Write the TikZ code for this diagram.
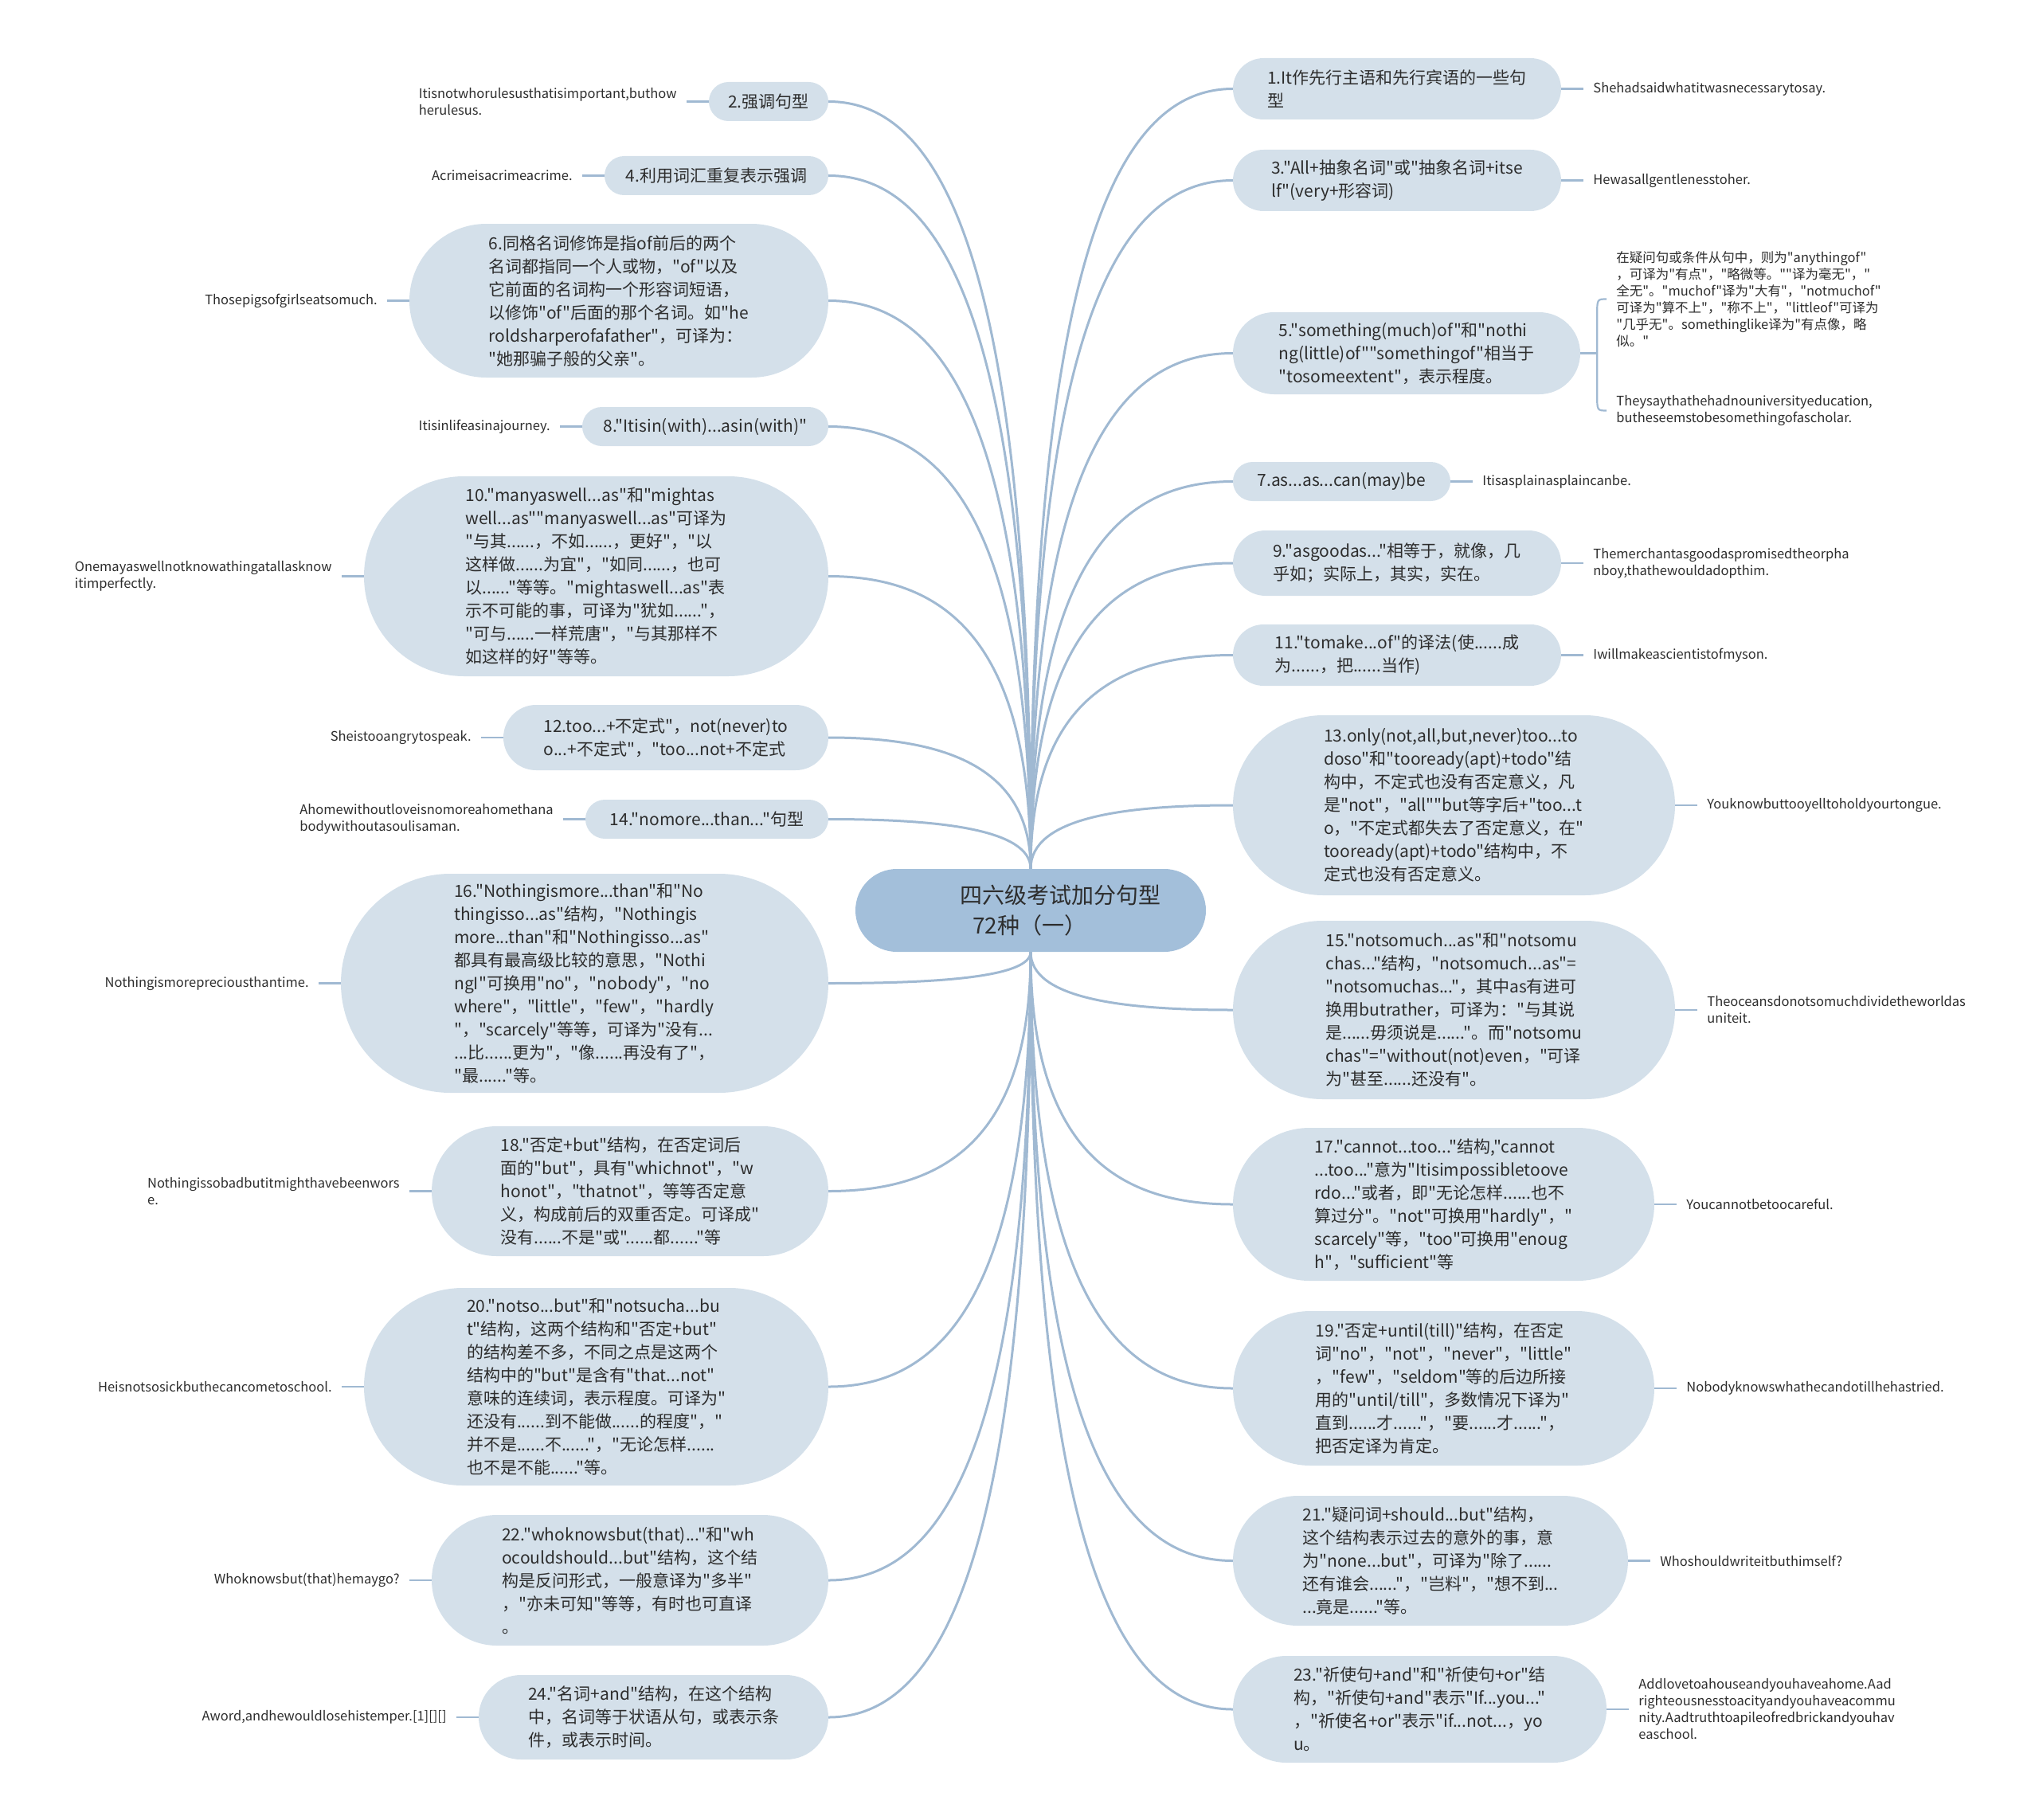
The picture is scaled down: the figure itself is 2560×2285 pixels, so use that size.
\documentclass[tikz,border=0pt]{standalone}
\usepackage{fontspec}
\setmainfont{Noto Sans CJK SC}[Ligatures=TeXOff]
\usetikzlibrary{positioning,calc}
\definecolor{rootfill}{RGB}{163,191,218}
\definecolor{topicfill}{RGB}{212,224,234}
\definecolor{linkblue}{RGB}{160,185,210}
\definecolor{inktext}{RGB}{45,45,45}
\newcommand\rootfont{\fontsize{28}{38}\selectfont}
\newcommand\topicfont{\fontsize{21}{29}\selectfont}
\newcommand\leaffont{\fontsize{16.5}{21}\selectfont}
\tikzset{
  root/.style={fill=rootfill,rounded corners=52pt,minimum width=440pt,minimum height=104pt,inner sep=0pt},
  roottext/.style={font=\rootfont,text=inktext,align=left,inner sep=0pt},
  topic/.style 2 args={fill=topicfill,rounded corners=#2pt/2,minimum width=#1pt,
    minimum height=#2pt,inner sep=0pt,align=left,font=\topicfont,text=inktext},
  leaf/.style={font=\leaffont,text=inktext,align=left,inner xsep=12pt,inner ysep=2pt},
  branch/.style={draw=linkblue,line width=3pt},
  twig/.style={draw=linkblue,line width=2.2pt},
}
\begin{document}
\begin{tikzpicture}[x=1pt,y=-1pt]
  \useasboundingbox (0,0) rectangle (2560,2285);
  \node[root] (root) at (1294,1143) {};
  \node[roottext,anchor=west] (title) at ([xshift=131pt]root.west) {四六级考试加分句型\\\hspace*{16pt}72种（一）};

  % left topics
  \node[topic={150}{49}] (n2) at (965,127.5) {2.强调句型};
  \node[topic={281}{49}] (n4) at (899.5,220.5) {4.利用词汇重复表示强调};
  \node[topic={526}{193}] (n6) at (777,377.5) {6.同格名词修饰是指of前后的两个\\名词都指同一个人或物，"of"以及\\它前面的名词构一个形容词短语，\\以修饰"of"后面的那个名词。如"he\\roldsharperofafather"，可译为：\\"她那骗子般的父亲"。};
  \node[topic={309}{49}] (n8) at (885.5,535.5) {8."Itisin(with)...asin(with)"};
  \node[topic={583}{251}] (n10) at (748.5,723.5) {10."manyaswell...as"和"mightas\\well...as""manyaswell...as"可译为\\"与其......，不如......，更好"，"以\\这样做......为宜"，"如同......，也可\\以......"等等。"mightaswell...as"表\\示不可能的事，可译为"犹如......"，\\"可与......一样荒唐"，"与其那样不\\如这样的好"等等。};
  \node[topic={408}{82}] (n12) at (836,926) {12.too...+不定式"，not(never)to\\o...+不定式"，"too...not+不定式};
  \node[topic={305}{49}] (n14) at (887.5,1028.5) {14."nomore...than..."句型};
  \node[topic={612}{275}] (n16) at (734,1234.5) {16."Nothingismore...than"和"No\\thingisso...as"结构，"Nothingis\\more...than"和"Nothingisso...as"\\都具有最高级比较的意思，"Nothi\\ngI"可换用"no"，"nobody"，"no\\where"，"little"，"few"，"hardly\\"，"scarcely"等等，可译为"没有...\\...比......更为"，"像......再没有了"，\\"最......"等。};
  \node[topic={498}{163}] (n18) at (791,1495.5) {18."否定+but"结构，在否定词后\\面的"but"，具有"whichnot"，"w\\honot"，"thatnot"，等等否定意\\义，构成前后的双重否定。可译成"\\没有......不是"或"......都......"等};
  \node[topic={583}{248}] (n20) at (748.5,1741) {20."notso...but"和"notsucha...bu\\t"结构，这两个结构和"否定+but"\\的结构差不多，不同之点是这两个\\结构中的"but"是含有"that...not"\\意味的连续词，表示程度。可译为"\\还没有......到不能做......的程度"，"\\并不是......不......"，"无论怎样......\\也不是不能......"等。};
  \node[topic={498}{164}] (n22) at (791,1984) {22."whoknowsbut(that)..."和"wh\\ocouldshould...but"结构，这个结\\构是反问形式，一般意译为"多半"\\，"亦未可知"等等，有时也可直译\\。};
  \node[topic={439}{106}] (n24) at (820.5,2156) {24."名词+and"结构，在这个结构\\中，名词等于状语从句，或表示条\\件，或表示时间。};

  % right topics
  \node[topic={412}{77}] (n1) at (1754,111.5) {1.It作先行主语和先行宾语的一些句\\型};
  \node[topic={412}{77}] (n3) at (1754,226.5) {3."All+抽象名词"或"抽象名词+itse\\lf"(very+形容词)};
  \node[topic={436}{103}] (n5) at (1766,443.5) {5."something(much)of"和"nothi\\ng(little)of""somethingof"相当于\\"tosomeextent"，表示程度。};
  \node[topic={273}{49}] (n7) at (1684.5,604.5) {7.as...as...can(may)be};
  \node[topic={412}{82}] (n9) at (1754,707) {9."asgoodas..."相等于，就像，几\\乎如；实际上，其实，实在。};
  \node[topic={412}{77}] (n11) at (1754,822.5) {11."tomake...of"的译法(使......成\\为......，把......当作)};
  \node[topic={555}{226}] (n13) at (1825.5,1011) {13.only(not,all,but,never)too...to\\doso"和"tooready(apt)+todo"结\\构中，不定式也没有否定意义，凡\\是"not"，"all""but等字后+"too...t\\o，"不定式都失去了否定意义，在"\\tooready(apt)+todo"结构中，不\\定式也没有否定意义。};
  \node[topic={555}{224}] (n15) at (1825.5,1268) {15."notsomuch...as"和"notsomu\\chas..."结构，"notsomuch...as"=\\"notsomuchas..."，其中as有进可\\换用butrather，可译为："与其说\\是......毋须说是......"。而"notsomu\\chas"="without(not)even，"可译\\为"甚至......还没有"。};
  \node[topic={529}{192}] (n17) at (1812.5,1512) {17."cannot...too..."结构,"cannot\\...too..."意为"Itisimpossibletoove\\rdo..."或者，即"无论怎样......也不\\算过分"。"not"可换用"hardly"，"\\scarcely"等，"too"可换用"enoug\\h"，"sufficient"等};
  \node[topic={529}{194}] (n19) at (1812.5,1743) {19."否定+until(till)"结构，在否定\\词"no"，"not"，"never"，"little"\\，"few"，"seldom"等的后边所接\\用的"until/till"，多数情况下译为"\\直到......才......"，"要......才......"，\\把否定译为肯定。};
  \node[topic={496}{163}] (n21) at (1796,1959.5) {21."疑问词+should...but"结构，\\这个结构表示过去的意外的事，意\\为"none...but"，可译为"除了......\\还有谁会......"，"岂料"，"想不到...\\...竟是......"等。};
  \node[topic={469}{134}] (n23) at (1782.5,2146) {23."祈使句+and"和"祈使句+or"结\\构，"祈使句+and"表示"If...you..."\\，"祈使名+or"表示"if...not...，yo\\u。};

  % left leaves
  \node[leaf,left=28pt of n2] (l2) {Itisnotwhorulesusthatisimportant,buthow\\herulesus.};
  \node[leaf,left=28pt of n4] (l4) {Acrimeisacrimeacrime.};
  \node[leaf,left=28pt of n6] (l6) {Thosepigsofgirlseatsomuch.};
  \node[leaf,left=28pt of n8] (l8) {Itisinlifeasinajourney.};
  \node[leaf,left=28pt of n10] (l10) {Onemayaswellnotknowathingatallasknow\\itimperfectly.};
  \node[leaf,left=28pt of n12] (l12) {Sheistooangrytospeak.};
  \node[leaf,left=28pt of n14] (l14) {Ahomewithoutloveisnomoreahomethana\\bodywithoutasoulisaman.};
  \node[leaf,left=28pt of n16] (l16) {Nothingismorepreciousthantime.};
  \node[leaf,left=28pt of n18] (l18) {Nothingissobadbutitmighthavebeenwors\\e.};
  \node[leaf,left=28pt of n20] (l20) {Heisnotsosickbuthecancometoschool.};
  \node[leaf,left=28pt of n22] (l22) {Whoknowsbut(that)hemaygo?};
  \node[leaf,left=28pt of n24] (l24) {Aword,andhewouldlosehistemper.[1][][]};

  % right leaves
  \node[leaf,right=28pt of n1] (l1) {Shehadsaidwhatitwasnecessarytosay.};
  \node[leaf,right=28pt of n3] (l3) {Hewasallgentlenesstoher.};
  \node[leaf,anchor=west] (l5a) at ([xshift=33pt,yshift=68pt]n5.east) {在疑问句或条件从句中，则为"anythingof"\\，可译为"有点"，"略微等。""译为毫无"，"\\全无"。"muchof"译为"大有"，"notmuchof"\\可译为"算不上"，"称不上"，"littleof"可译为\\"几乎无"。somethinglike译为"有点像，略\\似。"};
  \node[leaf,anchor=west] (l5b) at ([xshift=33pt,yshift=-72pt]n5.east) {Theysaythathehadnouniversityeducation,\\butheseemstobesomethingofascholar.};
  \node[leaf,right=28pt of n7] (l7) {Itisasplainasplaincanbe.};
  \node[leaf,right=28pt of n9] (l9) {Themerchantasgoodaspromisedtheorpha\\nboy,thathewouldadopthim.};
  \node[leaf,right=28pt of n11] (l11) {Iwillmakeascientistofmyson.};
  \node[leaf,right=28pt of n13] (l13) {Youknowbuttooyelltoholdyourtongue.};
  \node[leaf,right=28pt of n15] (l15) {Theoceansdonotsomuchdividetheworldas\\uniteit.};
  \node[leaf,right=28pt of n17] (l17) {Youcannotbetoocareful.};
  \node[leaf,right=28pt of n19] (l19) {Nobodyknowswhathecandotillhehastried.};
  \node[leaf,right=28pt of n21] (l21) {Whoshouldwriteitbuthimself?};
  \node[leaf,right=28pt of n23] (l23) {Addlovetoahouseandyouhaveahome.Aad\\righteousnesstoacityandyouhaveacommu\\nity.Aadtruthtoapileofredbrickandyouhav\\easchool.};

  % branches from the root
  \foreach \n in {1,3,5,7,9,11,13}
    \draw[branch] (root.north) .. controls ($(root.north)!0.8!(root.north|-n\n.west)$) and ($(n\n.west)!0.55!(root.north|-n\n.west)$) .. (n\n.west);
  \foreach \n in {2,4,6,8,10,12,14}
    \draw[branch] (root.north) .. controls ($(root.north)!0.8!(root.north|-n\n.east)$) and ($(n\n.east)!0.55!(root.north|-n\n.east)$) .. (n\n.east);
  \foreach \n in {15,17,19,21,23}
    \draw[branch] (root.south) .. controls ($(root.south)!0.8!(root.south|-n\n.west)$) and ($(n\n.west)!0.55!(root.south|-n\n.west)$) .. (n\n.west);
  \foreach \n in {16,18,20,22,24}
    \draw[branch] (root.south) .. controls ($(root.south)!0.8!(root.south|-n\n.east)$) and ($(n\n.east)!0.55!(root.south|-n\n.east)$) .. (n\n.east);

  % leaf links
  \foreach \n in {2,4,...,24}
    \draw[twig] (n\n.west) -- (l\n.east);
  \foreach \n in {1,3,7,9,11,13,15,17,19,21,23}
    \draw[twig] (n\n.east) -- (l\n.west);
  \coordinate (b5) at ([xshift=21pt]n5.east);
  \draw[twig] (n5.east) -- (b5);
  \draw[twig] (l5a.west) .. controls (b5|-l5a.west) .. ($(b5|-l5a.west)+(0,-20pt)$) -- ($(b5|-l5b.west)+(0,20pt)$) .. controls (b5|-l5b.west) .. (l5b.west);
\end{tikzpicture}
\end{document}
